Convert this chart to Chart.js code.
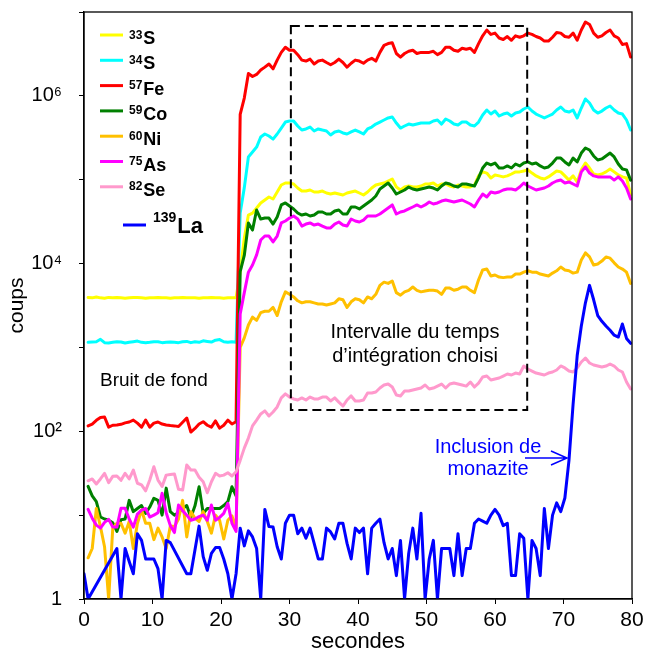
<!DOCTYPE html>
<html>
<head>
<meta charset="utf-8">
<script src="https://cdn.jsdelivr.net/npm/chart.js@4.4.0/dist/chart.umd.min.js"></script>
<style>
  html, body { margin: 0; padding: 0; background: #fff; }
</style>
</head>
<body>
<canvas id="chart" width="646" height="655"></canvas>
<script>
// acquisition time (s)
const seconds = [
  0,0.6,1.2,1.8,2.4,3,3.6,4.2,4.8,5.4,
  6,6.6,7.2,7.8,8.4,9,9.6,10.2,10.8,11.4,
  12,12.6,13.2,13.8,14.4,15,15.6,16.2,16.8,17.4,
  18,18.6,19.2,19.8,20.4,21,21.6,22.2,22.8,23.4,
  24,24.6,25.2,25.8,26.4,27,27.6,28.2,28.8,29.4,
  30,30.6,31.2,31.8,32.4,33,33.6,34.2,34.8,35.4,
  36,36.6,37.2,37.8,38.4,39,39.6,40.2,40.8,41.4,
  42,42.6,43.2,43.8,44.4,45,45.6,46.2,46.8,47.4,
  48,48.6,49.2,49.8,50.4,51,51.6,52.2,52.8,53.4,
  54,54.6,55.2,55.8,56.4,57,57.6,58.2,58.8,59.4,
  60,60.6,61.2,61.8,62.4,63,63.6,64.2,64.8,65.4,
  66,66.6,67.2,67.8,68.4,69,69.6,70.2,70.8,71.4,
  72,72.6,73.2,73.8,74.4,75,75.6,76.2,76.8,77.4,
  78,78.6,79.2,79.8
];

// counts per isotope
const s33 = [null,
  3950,3900,4000,3900,3850,3950,3900,3950,3900,3850,
  3900,3950,3950,3900,3850,3900,3900,3950,3900,3900,
  3850,3900,3900,3950,3900,3900,3900,3850,3900,3900,
  3950,3900,3900,3850,3900,3900,3900,
  8000,20000,37900,
  40000,46000,52800,57300,62200,58900,71400,86500,91400,91400,
  88900,79600,73300,73300,75400,71400,71400,73300,69400,67500,
  69400,67500,65700,69400,71400,73300,69400,65700,71400,79600,
  86500,88900,91400,96500,102000,81800,75400,81800,84100,81800,
  81800,84100,88900,88900,91400,84100,88900,88900,84100,81800,
  86500,84100,81800,81800,86500,111000,124000,120000,105000,114000,
  111000,108000,111000,117000,124000,124000,127000,131000,120000,111000,
  105000,102000,108000,117000,127000,124000,111000,99000,111000,94000,
  131000,158000,138000,117000,114000,117000,124000,134000,124000,114000,
  108000,105000,65700];

const s34 = [null,
  1150,1160,1170,1250,1140,1130,1150,1170,1160,1130,
  1150,1170,1190,1150,1140,1150,1170,1170,1140,1150,
  1160,1150,1140,1170,1180,1140,1170,1150,1200,1180,
  1160,1220,1240,1170,1150,1170,1150,
  40000,80000,187000,
  214000,245000,323000,351000,332000,305000,351000,413000,487000,501000,
  501000,437000,391000,403000,425000,381000,403000,391000,381000,341000,
  371000,381000,361000,351000,371000,391000,371000,351000,403000,425000,
  461000,487000,515000,545000,560000,474000,413000,437000,461000,449000,
  461000,474000,474000,474000,501000,515000,461000,530000,501000,461000,
  449000,487000,487000,449000,437000,487000,591000,678000,607000,659000,
  575000,607000,624000,575000,624000,641000,697000,736000,659000,607000,
  575000,545000,575000,607000,678000,736000,659000,641000,678000,545000,
  716000,918000,822000,678000,624000,659000,716000,757000,678000,624000,
  607000,515000,391000];

const fe57 = [null,
  116,122,135,146,148,112,118,119,121,126,
  129,136,125,112,136,112,125,129,122,119,
  117,116,114,128,144,98,108,122,130,118,
  112,133,109,118,136,122,130,
  6.0e5,9.4e5,1.85e6,
  1.7e6,1.8e6,2.03e6,2.2e6,2.4e6,2.1e6,2.67e6,3.3e6,3.8e6,3.5e6,
  3.5e6,3.1e6,2.67e6,2.6e6,2.74e6,2.4e6,2.6e6,2.67e6,2.5e6,2.35e6,
  2.5e6,2.74e6,2.5e6,2.2e6,2.45e6,2.67e6,2.6e6,2.45e6,2.67e6,2.8e6,
  2.6e6,3.3e6,4.0e6,4.2e6,4.3e6,3.2e6,2.9e6,3.2e6,3.4e6,3.5e6,
  3.2e6,3.3e6,3.3e6,3.3e6,3.4e6,3.1e6,3.3e6,3.8e6,3.8e6,3.5e6,
  3.4e6,3.7e6,3.6e6,3.7e6,3.3e6,4.2e6,5.2e6,6.1e6,5.4e6,5.6e6,
  4.9e6,4.7e6,5.1e6,4.6e6,5.2e6,5.0e6,5.2e6,5.6e6,5.4e6,5.1e6,
  4.9e6,4.5e6,4.5e6,5.0e6,5.7e6,5.6e6,5.1e6,5.0e6,5.6e6,4.6e6,
  6.1e6,7.6e6,7.1e6,5.6e6,5.0e6,5.2e6,5.7e6,6.1e6,5.2e6,4.9e6,
  4.1e6,4.2e6,2.9e6];

const co59 = [null,
  22,17,14.5,9.5,9,8.7,8.1,6.4,8.8,9,
  15,11,12,13,10.5,12.5,15.9,15,10,21,
  11,10,10.7,12,13,9.4,12.9,21.8,10.5,12,
  12,12,12,13,14.5,21.8,17,
  8000,12500,30500,
  25100,43500,34000,34900,34900,29600,35900,50000,52800,48600,
  44800,40100,37900,39000,36900,37900,41200,41200,39000,39000,
  42400,43500,39000,39000,47300,47300,44800,48600,52800,57300,
  63900,77500,84100,91400,79600,67500,71400,75400,81800,77500,
  75400,77500,79600,81800,79600,75400,84100,91400,88900,84100,
  81800,88900,88900,86500,84100,105000,138000,158000,150000,158000,
  138000,138000,146000,138000,154000,146000,158000,163000,154000,158000,
  146000,138000,142000,158000,181000,181000,163000,150000,181000,163000,
  208000,239000,226000,192000,172000,177000,192000,208000,187000,154000,
  134000,131000,99000];

const ni60 = [null,
  3.1,4,12,7.3,4.2,1,7,8,8,6.1,
  8.4,4,8,11.5,8,8,5.1,7,5.5,4,
  7.4,7.3,9,15,5.5,11,9.2,8.4,11,8.4,
  6.1,10,8.7,5.2,8.7,9.8,7,
  1000,1300,1850,
  2300,2100,2600,2700,2700,3000,2400,3500,4600,4300,
  4000,3600,3400,3500,3500,3400,3300,3300,3200,3300,
  3400,3800,3700,3000,3500,3800,3700,3400,4000,3800,
  4300,5500,6000,5800,6200,4500,4200,4600,4800,5250,
  4800,4600,4700,4800,4800,4700,4300,5100,5100,4800,
  4950,5250,5250,4800,4500,6400,8400,8600,7100,7300,
  6900,6800,6900,6900,7500,7500,7900,8200,7900,7900,
  7500,7300,7100,7700,8200,9100,8400,8200,7700,7900,
  11000,13400,12000,9600,9900,10700,12000,11600,10200,9100,
  8600,7900,5800];

const as75 = [null,
  11.7,9.2,7.6,7,8.2,8.9,7.2,7.2,12.1,12.1,
  9,7.2,10.3,11.5,12,9.5,10,10.7,18.2,10.7,
  7.5,6.2,13.2,11.3,10,8.7,9,9.6,10,8.7,
  13.2,8.7,9.4,10.5,13.8,8,6.4,
  2500,4500,7900,
  9600,12700,19100,21300,21300,18100,21300,30500,32200,34900,
  36900,34000,28000,29600,30500,28800,29600,28000,26600,26600,
  29600,31300,28800,28000,34000,32200,31300,33000,36900,36900,
  36900,39000,42400,46000,50000,39000,41200,42400,44800,47300,
  50000,47300,50000,54200,51300,52800,55700,57300,55700,54200,
  55700,57300,54200,51300,47300,57300,67500,62200,71400,69400,
  71400,75400,77500,77500,75400,81800,91400,84100,79600,75400,
  77500,79600,84100,91400,96500,99000,91400,94000,88900,84100,
  124000,142000,120000,111000,108000,108000,108000,108000,99000,108000,
  96500,79600,58900];

const se82 = [null,
  25.7,27,23.5,27,31.5,24.4,29,29.3,26,31.5,
  27,34.5,24,22.9,19.5,26.2,37.8,26.2,22,30,
  30.5,31,20.3,20,39.6,34.5,34.5,28.3,25,18.5,
  25,31.5,29.3,30,32,29.3,33,
  45,63,83,
  116,136,161,175,152,170,195,250,279,256,
  243,236,250,236,256,243,243,256,256,230,
  250,223,200,236,264,230,230,236,286,286,
  294,328,356,366,337,271,264,302,302,310,
  319,328,356,319,328,346,366,328,366,376,
  366,356,346,387,337,376,444,456,409,420,
  432,456,482,469,495,482,601,553,523,495,
  482,469,495,509,538,601,569,523,509,569,
  670,748,652,617,600,585,600,634,600,538,
  509,387,319];

// null = no counts recorded (line bridges the gap)
const la139 = [2,
  1,null,null,null,null,null,null,4,1,4,
  2.8,2,6,5,3,3,3,2.3,1,5,
  4.7,null,null,null,2,2,null,7.4,3.2,2.2,
  3.5,4.1,4.1,3,2,1,2,
  7,4.3,6.5,
  5.5,4,1,11.7,7.3,7.2,4.2,3,8,10,
  10,6,7,5.3,7,4.6,3,3,7,6.3,
  5.2,8,8,4.6,3,7,6.2,7,2,7,
  8,9,4.7,3,4,1.9,5,1,3.5,7,
  3,10.5,1,3,5,1,4,4,4,1.9,
  6,1.9,4,4,8,9,8.5,8,10,11.7,
  10,7.5,8,1.9,1.9,6,5.3,1,5,4,
  1.9,12,4,10,14,11,16,45,210,800,
  1800,3400,5500,3700,2400,2050,1800,1600,1400,1330,
  1900,1280,1120];

const isotopeMasses = ['33', '34', '57', '59', '60', '75', '82', '139'];
const isotopeSymbols = ['S', 'S', 'Fe', 'Co', 'Ni', 'As', 'Se', 'La'];
const yTickValues = [1, 10, 100, 1000, 1e4, 1e5, 1e6, 1e7];
const yTickLabels = ['1', '', '10²', '', '10⁴', '', '10⁶', ''];
const windowSeconds = [30.2, 64.7];
const windowCounts = [180, 6.8e6];

const series = [s33, s34, fe57, co59, ni60, as75, se82, la139];
const colors = ['#FFFF00', '#00FFFF', '#FF0000', '#008000', '#FFC000', '#FF00FF', '#FF99CC', '#0000FF'];
const FONT = "'Liberation Sans', Arial, Helvetica, sans-serif";

Chart.defaults.font.family = FONT;
Chart.defaults.color = '#000';

function font(px, bold) {
  return (bold ? 'bold ' : '') + px + 'px ' + FONT;
}

const overlay = {
  id: 'overlay',
  afterDraw(chart) {
    const { ctx, chartArea: a, scales: { x, y } } = chart;
    ctx.save();

    // frame
    ctx.strokeStyle = '#000';
    ctx.lineWidth = 1.3;
    ctx.strokeRect(a.left, a.top, a.right - a.left, a.bottom - a.top);

    // chosen integration window
    const bx0 = x.getPixelForValue(windowSeconds[0]);
    const bx1 = x.getPixelForValue(windowSeconds[1]);
    const by0 = y.getPixelForValue(windowCounts[1]);
    const by1 = y.getPixelForValue(windowCounts[0]);
    ctx.setLineDash([9, 5]);
    ctx.lineWidth = 2;
    ctx.strokeRect(bx0, by0, bx1 - bx0, by1 - by0);
    ctx.setLineDash([]);

    // legend
    ctx.textAlign = 'left';
    ctx.textBaseline = 'alphabetic';
    isotopeMasses.forEach((mass, k) => {
      const last = k === isotopeMasses.length - 1;
      const ly = last ? a.top + 213 : a.top + 23 + k * 25.3;
      const lx = last ? 123 : 100;
      ctx.strokeStyle = colors[k];
      ctx.lineWidth = 3;
      ctx.beginPath();
      ctx.moveTo(lx, ly);
      ctx.lineTo(lx + 23, ly);
      ctx.stroke();
      ctx.fillStyle = '#000';
      const tx = last ? 153 : 129;
      ctx.font = font(last ? 14 : 12, true);
      ctx.fillText(mass, tx, ly + (last ? -3.5 : 3.5));
      const w = ctx.measureText(mass).width;
      ctx.font = font(last ? 22 : 18, true);
      ctx.fillText(isotopeSymbols[k], tx + w + 1, ly + (last ? 7.5 : 9));
    });

    // notes
    ctx.fillStyle = '#000';
    ctx.font = font(19);
    ctx.fillText('Bruit de fond', 100, 386);
    ctx.textAlign = 'center';
    ctx.font = font(20);
    ctx.fillText('Intervalle du temps', 415, 338);
    ctx.fillText('d’intégration choisi', 415, 361.5);
    ctx.fillStyle = '#0000FF';
    ctx.fillText('Inclusion de', 488, 453);
    ctx.fillText('monazite', 488, 475);

    ctx.strokeStyle = '#0000FF';
    ctx.lineWidth = 1.5;
    ctx.beginPath();
    ctx.moveTo(525, 458);
    ctx.lineTo(567, 458);
    ctx.moveTo(551, 451);
    ctx.lineTo(567, 458);
    ctx.lineTo(551, 465);
    ctx.stroke();

    ctx.restore();
  }
};

const datasets = series.map((values, k) => ({
  label: isotopeMasses[k] + isotopeSymbols[k],
  data: values.map((v, i) => ({ x: seconds[i], y: v })),
  borderColor: colors[k],
  backgroundColor: colors[k],
  borderWidth: 3,
  pointRadius: 0,
  tension: 0,
  spanGaps: k === 7,
  order: 7 - k,
  borderJoinStyle: 'round',
  borderCapStyle: 'round',
}));

new Chart(document.getElementById('chart').getContext('2d'), {
  type: 'line',
  data: { datasets },
  options: {
    responsive: false,
    animation: false,
    events: [],
    layout: { padding: { left: 0, right: 14, top: 12, bottom: 0 } },
    plugins: { legend: { display: false }, tooltip: { enabled: false } },
    scales: {
      x: {
        type: 'linear',
        min: 0,
        max: 80,
        ticks: { stepSize: 10, color: '#000', font: { size: 21 }, padding: 4, maxRotation: 0 },
        grid: { drawOnChartArea: false, tickLength: 5, color: '#000', lineWidth: 1 },
        border: { color: '#000', width: 1.3 },
        title: { display: true, text: 'secondes', color: '#000', font: { size: 22 }, padding: { top: 0, bottom: 0 } },
        afterFit(scale) {
          scale.height = 56;
          scale.paddingLeft = 0;
          scale.paddingRight = 0;
        }
      },
      y: {
        type: 'logarithmic',
        min: 1,
        max: 1e7,
        afterBuildTicks(scale) {
          scale.ticks = yTickValues.map(v => ({ value: v }));
        },
        ticks: {
          autoSkip: false,
          color: '#000',
          font: { size: 20 },
          padding: 17,
          callback: v => yTickLabels[yTickValues.indexOf(v)]
        },
        grid: { drawOnChartArea: false, tickLength: 5, color: '#000', lineWidth: 1 },
        border: { color: '#000', width: 1.3 },
        title: { display: true, text: 'coups', color: '#000', font: { size: 21 }, padding: { top: 5, bottom: 0 } },
        afterFit(scale) {
          scale.width = 84;
          scale.paddingTop = 0;
          scale.paddingBottom = 0;
        }
      }
    }
  },
  plugins: [overlay]
});
</script>
</body>
</html>
